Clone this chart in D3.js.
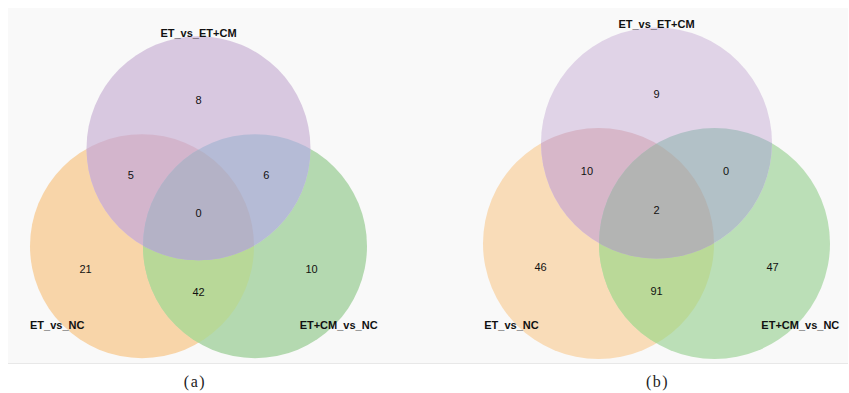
<!DOCTYPE html>
<html>
<head>
<meta charset="utf-8">
<script src="https://cdn.jsdelivr.net/npm/d3@7/dist/d3.min.js"></script>
<style>
  html, body { margin: 0; padding: 0; background: #ffffff; }
  svg { display: block; }
</style>
</head>
<body>
<svg id="chart" width="849" height="393"></svg>
<script>
// Set names, in drawing order: top, bottom-left, bottom-right
const setNames = ["ET_vs_ET+CM", "ET_vs_NC", "ET+CM_vs_NC"];
// Region keys: P = ET_vs_ET+CM, O = ET_vs_NC, G = ET+CM_vs_NC
const regionKeys = ["P", "PO", "PG", "POG", "O", "OG", "G"];
const countsA = [8, 5, 6, 0, 21, 42, 10];
const countsB = [9, 10, 0, 2, 46, 91, 47];
const panelCaptions = ["(a)", "(b)"];

// Region fill colours for each panel
const colorsA = { P: "#d8c8e0", O: "#f8d5a9", G: "#b4d9b0", PO: "#d3b5cc", PG: "#b5bbd6", OG: "#b8d898", POG: "#b4b2c6" };
const colorsB = { P: "#e0d3e7", O: "#f9dcb8", G: "#bbdfb7", PO: "#d7b7c9", PG: "#b2c1c7", OG: "#bad998", POG: "#b3b4b3" };

// Venn layout in units of the centre-to-centre distance
const circleCentres = { P: [0, -0.577], O: [-0.5, 0.289], G: [0.5, 0.289] };
const labelPos = {
  P: [0, -1.0], PO: [-0.6, -0.335], PG: [0.6, -0.335], POG: [0, 0],
  O: [-1.0, 0.495], OG: [0, 0.7], G: [1.0, 0.495]
};
const setLabelPos = [[0, -1.6], [-1.25, 0.99], [1.24, 0.99]];

const panels = [
  { cx: 198.5, cy: 213.5, d: 113, r: 112, counts: countsA, colors: colorsA, capX: 195 },
  { cx: 656.5, cy: 210, d: 116, r: 115.5, counts: countsB, colors: colorsB, capX: 657.5 }
];

const svg = d3.select("#chart");
const defs = svg.append("defs");

// Light grey backdrop behind both diagrams
svg.append("rect").attr("x", 8).attr("y", 8).attr("width", 840).attr("height", 355).attr("fill", "#f9f9f9");
svg.append("line").attr("x1", 8).attr("x2", 848).attr("y1", 363.5).attr("y2", 363.5)
  .attr("stroke", "#e8e8e8").attr("stroke-width", 1);

panels.forEach((pn, i) => {
  const x = d3.scaleLinear().domain([0, 1]).range([pn.cx, pn.cx + pn.d]);
  const y = d3.scaleLinear().domain([0, 1]).range([pn.cy, pn.cy + pn.d]);
  const g = svg.append("g");

  // clip paths for each circle
  ["P", "O", "G"].forEach(k => {
    defs.append("clipPath").attr("id", `clip${i}${k}`)
      .append("circle")
      .attr("cx", x(circleCentres[k][0])).attr("cy", y(circleCentres[k][1])).attr("r", pn.r);
  });

  const circle = (parent, k, fill) => parent.append("circle")
    .attr("cx", x(circleCentres[k][0])).attr("cy", y(circleCentres[k][1]))
    .attr("r", pn.r).attr("fill", fill);

  // single sets
  circle(g, "O", pn.colors.O);
  circle(g, "G", pn.colors.G);
  circle(g, "P", pn.colors.P);
  // pairwise overlaps
  circle(g.append("g").attr("clip-path", `url(#clip${i}O)`), "G", pn.colors.OG);
  circle(g.append("g").attr("clip-path", `url(#clip${i}P)`), "O", pn.colors.PO);
  circle(g.append("g").attr("clip-path", `url(#clip${i}P)`), "G", pn.colors.PG);
  // triple overlap
  circle(g.append("g").attr("clip-path", `url(#clip${i}P)`).append("g").attr("clip-path", `url(#clip${i}O)`), "G", pn.colors.POG);

  // region counts
  g.selectAll("text.count").data(regionKeys.map((k, j) => ({ k, v: pn.counts[j] })))
    .join("text").attr("class", "count")
    .attr("x", dd => x(labelPos[dd.k][0])).attr("y", dd => y(labelPos[dd.k][1]))
    .attr("dy", "0.35em").attr("text-anchor", "middle")
    .attr("font-family", "Liberation Sans, Arial, sans-serif").attr("font-size", 11)
    .attr("fill", "#111").text(dd => dd.v);

  // set names
  g.selectAll("text.set").data(setNames).join("text").attr("class", "set")
    .attr("x", (dd, j) => x(setLabelPos[j][0])).attr("y", (dd, j) => y(setLabelPos[j][1]))
    .attr("dy", "0.35em").attr("text-anchor", "middle")
    .attr("font-family", "Liberation Sans, Arial, sans-serif").attr("font-size", 11)
    .attr("font-weight", "bold").attr("fill", "#111").text(dd => dd);

  // panel caption
  svg.append("text").attr("x", pn.capX).attr("y", 387).attr("text-anchor", "middle")
    .attr("font-family", "Liberation Serif, DejaVu Serif, serif").attr("font-size", 16)
    .attr("letter-spacing", 1.5).attr("fill", "#222").text(panelCaptions[i]);
});
</script>
</body>
</html>
